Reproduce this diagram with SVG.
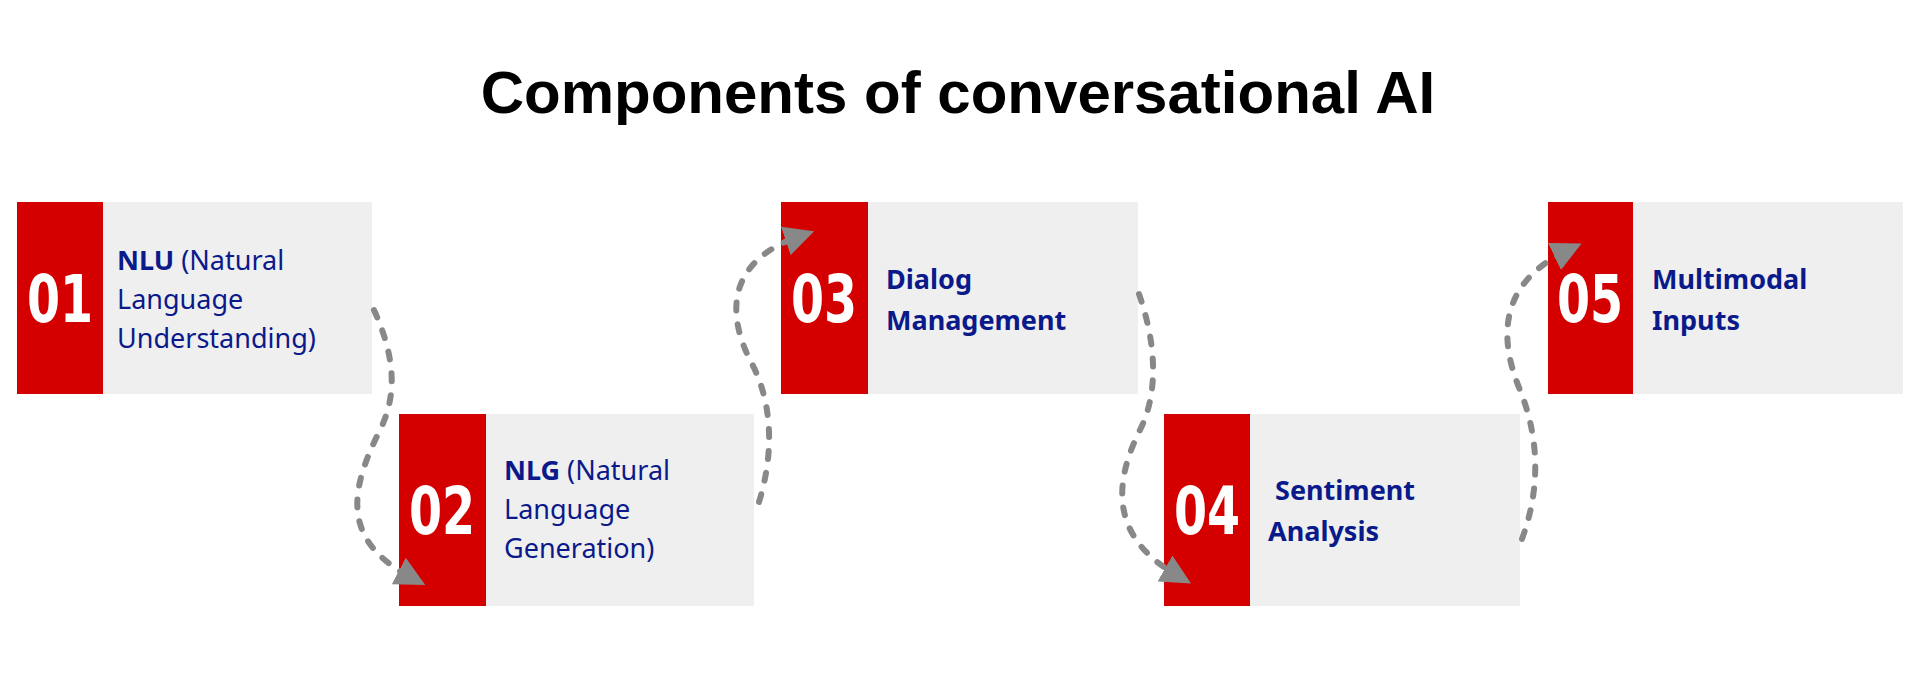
<svg xmlns="http://www.w3.org/2000/svg" width="1920" height="700" viewBox="0 0 1920 700">
<defs>
<style>
.red{fill:#d40000}.grey{fill:#efefef}
.num{font-family:"DejaVu Sans Condensed","DejaVu Sans",sans-serif;font-weight:bold;font-size:66px;fill:#fff;text-anchor:middle}
.lbl{font-family:"Noto Sans","Open Sans",sans-serif;font-size:27px;fill:#0a1a8a}
.b{font-weight:bold}
.con{fill:none;stroke:#888;stroke-width:6;stroke-linecap:round;stroke-dasharray:8 14}
</style>
<marker id="ah" viewBox="0 0 10 10" refX="5" refY="5" markerWidth="5" markerHeight="5" orient="auto" markerUnits="strokeWidth"><path d="M0,0L10,5L0,10z" fill="#888"/></marker>
</defs>
<rect width="1920" height="700" fill="#fff"/>
<text x="958" y="113" font-family="Liberation Sans,sans-serif" font-weight="bold" font-size="60" text-anchor="middle">Components of conversational AI</text>
<g id="n1"><rect class="grey" x="17" y="202" width="355" height="192"/><rect class="red" x="17" y="202" width="86" height="192"/>
<text class="num" transform="translate(60,322) scale(0.8,1)">01</text>
<text class="lbl" x="117" y="270"><tspan class="b">NLU</tspan> (Natural</text><text class="lbl" x="117" y="309">Language</text><text class="lbl" x="117" y="348">Understanding)</text></g>
<g id="n2"><rect class="grey" x="399" y="414" width="355" height="192"/><rect class="red" x="399" y="414" width="87" height="192"/>
<text class="num" transform="translate(442,534) scale(0.8,1)">02</text>
<text class="lbl" x="504" y="480"><tspan class="b">NLG</tspan> (Natural</text><text class="lbl" x="504" y="519">Language</text><text class="lbl" x="504" y="558">Generation)</text></g>
<g id="n3"><rect class="grey" x="781" y="202" width="357" height="192"/><rect class="red" x="781" y="202" width="87" height="192"/>
<text class="num" transform="translate(824,322) scale(0.8,1)">03</text>
<text class="lbl b" x="886" y="289">Dialog</text><text class="lbl b" x="886" y="330">Management</text></g>
<g id="n4"><rect class="grey" x="1164" y="414" width="356" height="192"/><rect class="red" x="1164" y="414" width="86" height="192"/>
<text class="num" transform="translate(1207,534) scale(0.8,1)">04</text>
<text class="lbl b" x="1275" y="500">Sentiment</text><text class="lbl b" x="1268" y="541">Analysis</text></g>
<g id="n5"><rect class="grey" x="1548" y="202" width="355" height="192"/><rect class="red" x="1548" y="202" width="85" height="192"/>
<text class="num" transform="translate(1590,322) scale(0.8,1)">05</text>
<text class="lbl b" x="1652" y="289">Multimodal</text><text class="lbl b" x="1652" y="330">Inputs</text></g>
<g id="connectors">
<path class="con" marker-end="url(#ah)" d="M374,310 C392,350 400,390 380,430 C350,490 340,540 412,578"/>
<path class="con" marker-end="url(#ah)" d="M759,502 C775,450 772,400 750,360 C725,310 730,260 800,236"/>
<path class="con" marker-end="url(#ah)" d="M1139,294 C1155,340 1160,390 1140,430 C1110,490 1115,540 1178,576"/>
<path class="con" marker-end="url(#ah)" d="M1522,539 C1540,490 1540,440 1520,390 C1495,330 1505,280 1568,250"/>
</g>
</svg>
